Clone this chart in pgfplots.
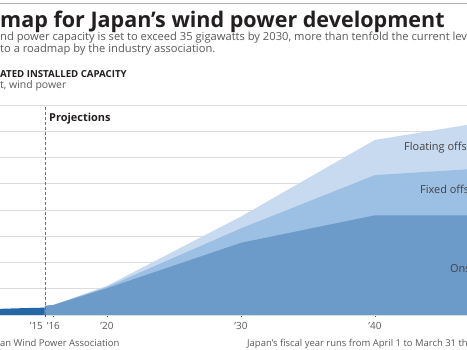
\documentclass[border=0pt]{standalone}
\usepackage{fontspec}
\setmainfont{Open Sans}
\usepackage{pgfplots}
\pgfplotsset{compat=1.18}
\definecolor{histblue}{HTML}{2368A6}
\definecolor{onshore}{HTML}{6C9BC9}
\definecolor{fixedoff}{HTML}{9CBFE4}
\definecolor{floatoff}{HTML}{C7DAF0}
\definecolor{gridgray}{HTML}{DCDCDC}
\definecolor{txtgray}{HTML}{58595B}
\definecolor{txtdark}{HTML}{231F20}
\begin{document}
\begin{tikzpicture}
\useasboundingbox (0,0) rectangle (467bp,350bp);
\clip (0,0) rectangle (467bp,350bp);
\fill[white] (0,0) rectangle (467bp,350bp);
\draw[gray!60, line width=1.2bp] (0,346.5bp) -- (467bp,346.5bp);
\begin{axis}[
  at={(0bp,35bp)}, anchor=south west,
  scale only axis, width=467bp, height=210bp,
  xmin=2012.015, xmax=2046.87, ymin=0, ymax=80,
  axis x line*=bottom,
  x axis line style={draw=gridgray, line width=0.8bp, -},
  y axis line style={draw=none},
  ytick={10,20,...,80}, yticklabels={}, ytick style={draw=none},
  ymajorgrids, grid style={draw=gridgray, line width=0.8bp},
  xtick={2016,2020,2030,2040},
  xticklabels={’16,’20,’30,’40},
  extra x ticks={2015.37}, extra x tick labels={’15},
  extra x tick style={grid=none, xticklabel style={anchor=north east, xshift=1.5bp}},
  tick align=center, major tick length=5bp,
  xtick style={draw=black!70, line width=0.8bp},
  xticklabel style={font=\fontsize{10}{12}\selectfont, text=txtgray, yshift=-1bp},
  clip=true,
]
% historical installed capacity
\addplot[fill=histblue, draw=none] coordinates {
 (2012.0,2.35) (2013,2.5) (2014,2.65) (2015.37,2.8)
} \closedcycle;
% projections (cumulative tops): total incl. floating offshore
\addplot[fill=floatoff, draw=none] coordinates {
 (2015.37,3.5) (2016,3.8) (2020,11.1) (2030,37.5) (2040,66.7) (2050,75.0)
} \closedcycle;
% onshore + fixed offshore
\addplot[fill=fixedoff, draw=none] coordinates {
 (2015.37,3.5) (2016,3.8) (2020,10.7) (2030,33.0) (2040,53.3) (2050,56.5)
} \closedcycle;
% onshore
\addplot[fill=onshore, draw=none] coordinates {
 (2015.37,3.5) (2016,3.8) (2020,10.2) (2030,27.5) (2040,38.0) (2050,38.0)
} \closedcycle;
\draw[black!55, dashed, dash pattern=on 3bp off 2bp, line width=0.8bp]
  (axis cs:2015.37,0) -- (axis cs:2015.37,80);
\end{axis}
% titles
\node[anchor=base west, inner sep=0, font=\fontsize{21.6}{25}\bfseries\selectfont, text=txtdark] at (0bp,322bp) {map for Japan’s wind power development};
\node[anchor=base west, inner sep=0, font=\fontsize{11.2}{14}\selectfont, text=txtgray] at (0bp,309bp) {nd power capacity is set to exceed 35 gigawatts by 2030, more than tenfold the current level,};
\node[anchor=base west, inner sep=0, font=\fontsize{11.2}{14}\selectfont, text=txtgray] at (0bp,297bp) {to a roadmap by the industry association.};
\node[anchor=base west, inner sep=0, font=\fontsize{9.7}{12}\bfseries\selectfont, text=txtdark] at (0bp,272.5bp) {ATED INSTALLED CAPACITY};
\node[anchor=base west, inner sep=0, font=\fontsize{10.5}{12}\selectfont, text=txtgray] at (0bp,261.5bp) {t, wind power};
\node[anchor=base west, inner sep=0, font=\fontsize{11}{13}\bfseries\selectfont, text=txtdark] at (49bp,228.5bp) {Projections};
% area labels
\node[anchor=base west, inner sep=0, font=\fontsize{11}{13}\selectfont, text=txtdark!85] at (404bp,199bp) {Floating offshore};
\node[anchor=base west, inner sep=0, font=\fontsize{11}{13}\selectfont, text=txtdark!85] at (420bp,156bp) {Fixed offshore};
\node[anchor=base west, inner sep=0, font=\fontsize{11}{13}\selectfont, text=txtdark!85] at (450bp,77bp) {Onshore};
% footer
\node[anchor=base west, inner sep=0, font=\fontsize{9.5}{12}\selectfont, text=txtgray] at (0bp,4bp) {an Wind Power Association};
\node[anchor=base west, inner sep=0, font=\fontsize{9.5}{12}\selectfont, text=txtgray] at (247bp,4bp) {Japan’s fiscal year runs from April 1 to March 31 the following year.};
\end{tikzpicture}
\end{document}
